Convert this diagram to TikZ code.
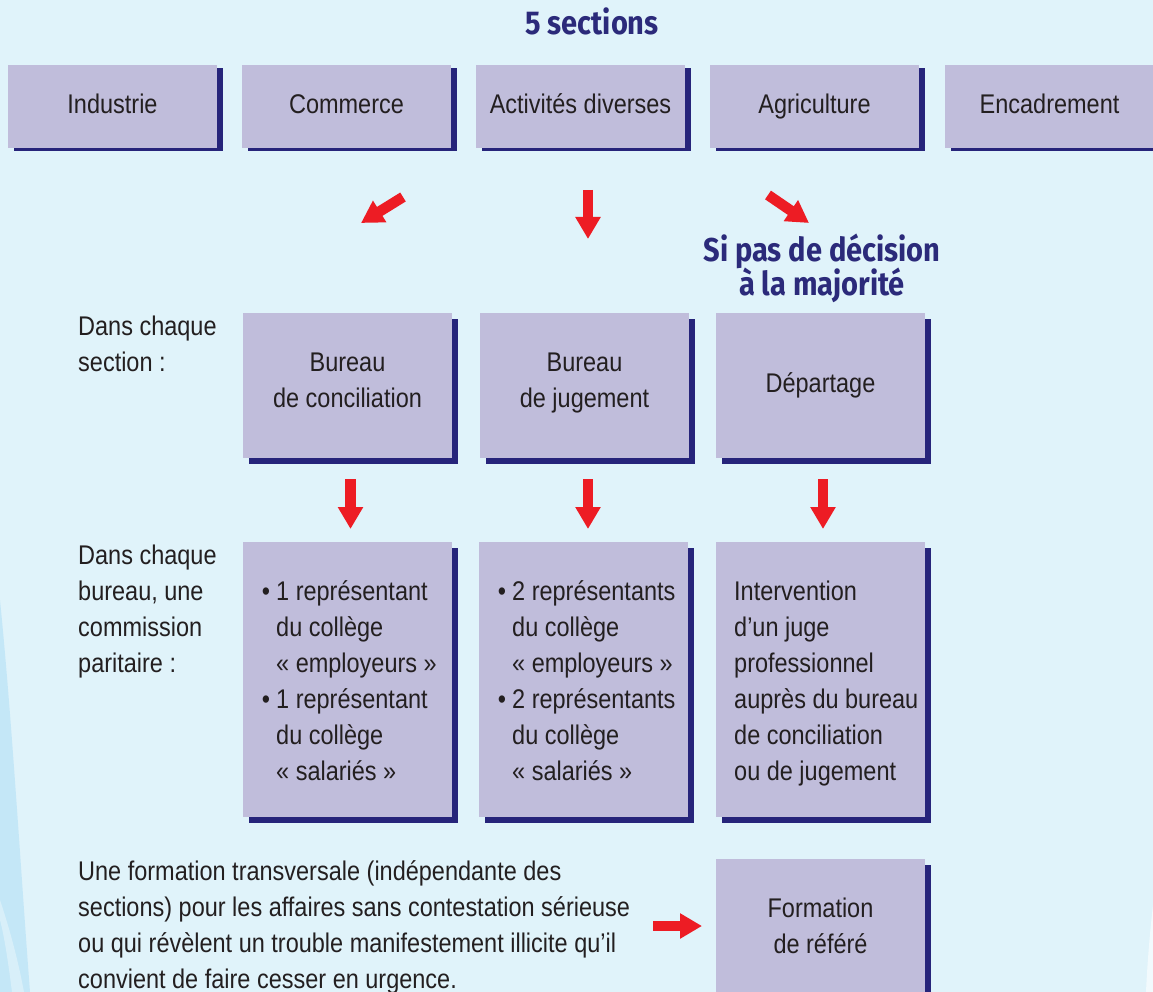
\documentclass[tikz,border=0pt]{standalone}
\usepackage{fontspec}
\setmainfont{Liberation Sans}[FakeStretch=0.87]
\newfontfamily\titlefnt{Fira Sans}[FakeStretch=0.88]
\usetikzlibrary{shadows,arrows.meta}
\definecolor{bgc}{RGB}{224,243,250}
\definecolor{glowc}{RGB}{190,228,247}
\definecolor{boxc}{RGB}{192,189,219}
\definecolor{navyc}{RGB}{38,36,122}
\definecolor{titlec}{RGB}{43,42,122}
\definecolor{arrowc}{RGB}{237,28,36}
\definecolor{txtc}{RGB}{35,31,32}
\newcommand\bodyfnt{\fontsize{27}{36}\selectfont}
\newcommand\ttlfnt{\titlefnt\bfseries\fontsize{33}{35}\selectfont}
\tikzset{
  box/.style={fill=boxc, inner sep=0pt, minimum width=209pt, text=txtc, font=\bodyfnt, align=center},
  shadowtop/.style={drop shadow={shadow xshift=6pt,shadow yshift=-3pt,opacity=1,fill=navyc}},
  shadowbox/.style={drop shadow={shadow xshift=6pt,shadow yshift=-6pt,opacity=1,fill=navyc}},
  topbox/.style={box, shadowtop, minimum height=83pt},
  midbox/.style={box, shadowbox, minimum height=145pt},
  lowbox/.style={box, shadowbox, minimum height=275pt},
  refbox/.style={box, shadowbox, minimum height=143.5pt},
  txt/.style={inner sep=0pt, text=txtc, font=\bodyfnt, align=left, anchor=north west},
  ttl/.style={inner sep=0pt, text=titlec, font=\ttlfnt, align=center},
  redarrow/.style={draw=arrowc, line width=10.5pt, -{Triangle[length=22pt,width=24pt,fill=arrowc]}}
}
\newcommand\bul{\llap{\textbullet\hspace{6pt}}}
\begin{document}
\begin{tikzpicture}[x=1pt,y=-1pt]
\useasboundingbox (0,0) rectangle (1153,992);
\fill[bgc] (0,0) rectangle (1153,992);
% left decorative glow
\fill[glowc, opacity=0.8] (0,600) .. controls (12,720) and (20,860) .. (30,992) -- (0,992) -- cycle;
\fill[white, opacity=0.35] (0,900) .. controls (10,930) and (18,960) .. (24,992) -- (12,992) .. controls (8,960) and (4,935) .. (0,920) -- cycle;
\fill[white, opacity=0.6] (1153,905) .. controls (1149,940) and (1147,970) .. (1146,992) -- (1153,992) -- cycle;

% title
\node[ttl, anchor=base] (title) at (592,35) {5 sections};

% sections
\node[topbox] (industrie) at (112.5,106.5) {\strut Industrie};
\node[topbox] (commerce) at (346.5,106.5) {\strut Commerce};
\node[topbox] (activites) at (580.5,106.5) {\strut Activités diverses};
\node[topbox] (agriculture) at (814.5,106.5) {\strut Agriculture};
\node[topbox] (encadrement) at (1049.5,106.5) {\strut Encadrement};

% arrows from sections
\coordinate (a1s) at (403,197); \coordinate (a1e) at (361,223);
\coordinate (a2s) at (588,190); \coordinate (a2e) at (588,239);
\coordinate (a3s) at (768,195); \coordinate (a3e) at (809,223);
\draw[redarrow] (a1s) -- (a1e);
\draw[redarrow] (a2s) -- (a2e);
\draw[redarrow] (a3s) -- (a3e);

\node[ttl, anchor=north] (majorite) at (822,233.5) {\strut Si pas de décision\\[-5pt]à la majorité};

% row 2
\node[txt] (lab1) at (78,310.5) {\strut Dans chaque\\section :};
\node[midbox] (conciliation) at (347.5,385.5) {Bureau\\de conciliation\strut};
\node[midbox] (jugement) at (584.5,385.5) {Bureau\\de jugement\strut};
\node[midbox] (departage) at (820.5,385.5) {\strut Départage};

% arrows row2 -> row3
\coordinate (b1s) at (350.5,479); \coordinate (b1e) at (350.5,529);
\coordinate (b2s) at (588,479); \coordinate (b2e) at (588,529);
\coordinate (b3s) at (823,479); \coordinate (b3e) at (823,529);
\draw[redarrow] (b1s) -- (b1e);
\draw[redarrow] (b2s) -- (b2e);
\draw[redarrow] (b3s) -- (b3e);

% row 3
\node[txt] (lab2) at (78,538.8) {\strut Dans chaque\\bureau, une\\commission\\paritaire :};
\node[lowbox] (compo1) at (347.5,679.5) {};
\node[lowbox] (compo2) at (583.5,679.5) {};
\node[lowbox] (compo3) at (820.5,679.5) {};
\node[txt] (compo1t) at (276,574.8) {\strut\bul 1 représentant\\du collège\\« employeurs »\\\bul 1 représentant\\du collège\\« salariés »};
\node[txt] (compo2t) at (512,574.8) {\strut\bul 2 représentants\\du collège\\« employeurs »\\\bul 2 représentants\\du collège\\« salariés »};
\node[txt] (compo3t) at (734,574.8) {\strut Intervention\\d’un juge\\professionnel\\auprès du bureau\\de conciliation\\ou de jugement};

% bottom
\node[txt] (transv) at (78,854.8) {\strut Une formation transversale (indépendante des\\sections) pour les affaires sans contestation sérieuse\\ou qui révèlent un trouble manifestement illicite qu’il\\convient de faire cesser en urgence.};
\node[refbox] (refere) at (820.5,930.75) {Formation\\de référé\strut};
\coordinate (cs) at (653,926); \coordinate (ce) at (702,926);
\draw[redarrow] (cs) -- (ce);
\end{tikzpicture}
\end{document}
